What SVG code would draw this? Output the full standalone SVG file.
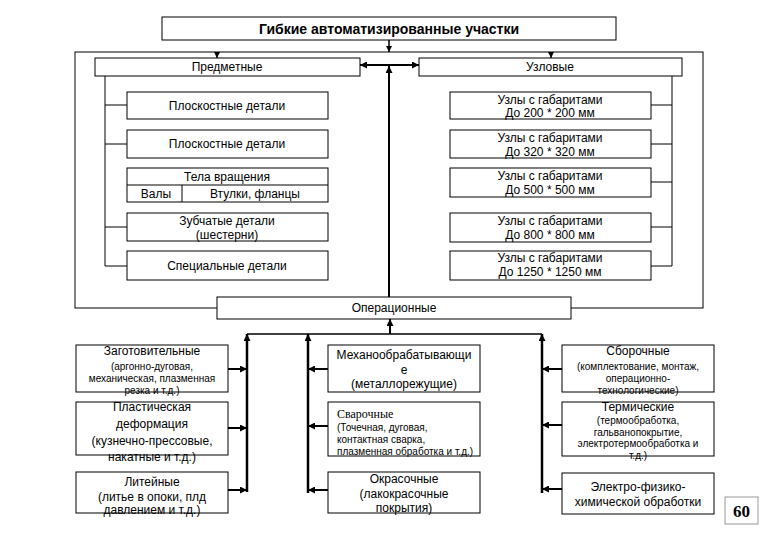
<svg xmlns="http://www.w3.org/2000/svg" width="780" height="540" viewBox="0 0 780 540">
<defs>
<marker id="ah" viewBox="0 0 8 8" refX="8" refY="4" markerWidth="8" markerHeight="7" markerUnits="userSpaceOnUse" orient="auto-start-reverse"><path d="M0,0 L8,4 L0,8 z" fill="#000"/></marker>
<marker id="as" viewBox="0 0 8 8" refX="8" refY="4" markerWidth="6" markerHeight="6" markerUnits="userSpaceOnUse" orient="auto-start-reverse"><path d="M0,0 L8,4 L0,8 z" fill="#000"/></marker>
</defs>
<style>
.b{fill:#fff;stroke:#000;stroke-width:1}
.f{fill:none;stroke:#000;stroke-width:1}
.t{font-family:"Liberation Sans",Arial,sans-serif;font-size:12px;fill:#000;text-anchor:middle;dominant-baseline:central}
.s{font-size:10px}
.l{text-anchor:start}
.c{fill:none;stroke:#000}
</style>
<rect x="0" y="0" width="780" height="540" fill="#fff"/>

<g id="frame"><rect class="f" x="75" y="52" width="628" height="256"/></g>

<g id="connectors">
<line class="c" x1="389" y1="40" x2="389" y2="52" stroke-width="1.5" marker-end="url(#as)"/>
<line class="c" x1="217" y1="52" x2="217" y2="58" stroke-width="1.2" marker-end="url(#as)"/>
<line class="c" x1="551" y1="52" x2="551" y2="58" stroke-width="1.2" marker-end="url(#as)"/>
<line class="c" x1="360" y1="65" x2="419" y2="65" stroke-width="2" marker-start="url(#ah)" marker-end="url(#ah)"/>
<line class="c" x1="389" y1="297" x2="389" y2="66" stroke-width="2" marker-end="url(#ah)"/>
<path class="c" stroke-width="1" d="M105,76 V266 M105,105 H127 M105,144 H127 M105,227 H127 M105,266 H127"/>
<path class="c" stroke-width="1" d="M672,76 V266 M672,105 H651 M672,144 H651 M672,182 H651 M672,227 H651 M672,266 H651"/>
<line class="c" x1="247" y1="334" x2="542" y2="334" stroke-width="1.3"/>
<line class="c" x1="390" y1="334" x2="390" y2="319" stroke-width="2" marker-end="url(#ah)"/>
<line class="c" x1="247" y1="492" x2="247" y2="334" stroke-width="2.5" marker-end="url(#ah)"/>
<line class="c" x1="308" y1="493" x2="308" y2="334" stroke-width="2.5" marker-end="url(#ah)"/>
<line class="c" x1="542" y1="493" x2="542" y2="334" stroke-width="2.5" marker-end="url(#ah)"/>
<line class="c" x1="228" y1="369" x2="247" y2="369" stroke-width="2" marker-end="url(#ah)"/>
<line class="c" x1="228" y1="428" x2="247" y2="428" stroke-width="2" marker-end="url(#ah)"/>
<line class="c" x1="228" y1="490" x2="247" y2="490" stroke-width="2" marker-end="url(#ah)"/>
<line class="c" x1="328" y1="369" x2="308" y2="369" stroke-width="2" marker-end="url(#ah)"/>
<line class="c" x1="328" y1="426" x2="308" y2="426" stroke-width="2" marker-end="url(#ah)"/>
<line class="c" x1="328" y1="490" x2="308" y2="490" stroke-width="2" marker-end="url(#ah)"/>
<line class="c" x1="562" y1="369" x2="542" y2="369" stroke-width="2" marker-end="url(#ah)"/>
<line class="c" x1="562" y1="425" x2="542" y2="425" stroke-width="2" marker-end="url(#ah)"/>
<line class="c" x1="562" y1="489" x2="542" y2="489" stroke-width="2" marker-end="url(#ah)"/>
</g>

<g id="title"><rect class="b" x="162" y="17" width="454" height="23"/><text class="t" x="389" y="29" style="font-weight:bold;font-size:14px">Гибкие автоматизированные участки</text></g>
<g id="predmetnye"><rect class="b" x="95" y="58" width="265" height="18"/><text class="t" x="227" y="67">Предметные</text></g>
<g id="uzlovye"><rect class="b" x="419" y="58" width="263" height="18"/><text class="t" x="550" y="67">Узловые</text></g>

<g id="plosk1"><rect class="b" x="127" y="92" width="201" height="27"/><text class="t" x="227" y="105.5">Плоскостные детали</text></g>
<g id="plosk2"><rect class="b" x="127" y="130" width="201" height="28"/><text class="t" x="227" y="144">Плоскостные детали</text></g>
<g id="tela"><rect class="b" x="127" y="168" width="201" height="34"/><path class="c" d="M127,185 H328 M182,185 V202"/><text class="t" x="227" y="177">Тела вращения</text><text class="t" x="156" y="194">Валы</text><text class="t" x="255" y="194">Втулки, фланцы</text></g>
<g id="zub"><rect class="b" x="127" y="213" width="201" height="28"/><text class="t" x="227" y="221">Зубчатые детали</text><text class="t" x="227" y="235">(шестерни)</text></g>
<g id="spec"><rect class="b" x="127" y="251" width="201" height="29"/><text class="t" x="227" y="266">Специальные детали</text></g>

<g id="u200"><rect class="b" x="450" y="92" width="201" height="27"/><text class="t" x="550" y="99.5">Узлы с габаритами</text><text class="t" x="550" y="112.5">До 200 * 200 мм</text></g>
<g id="u320"><rect class="b" x="450" y="130" width="201" height="28"/><text class="t" x="550" y="138">Узлы с габаритами</text><text class="t" x="550" y="152">До 320 * 320 мм</text></g>
<g id="u500"><rect class="b" x="450" y="168" width="201" height="29"/><text class="t" x="550" y="176">Узлы с габаритами</text><text class="t" x="550" y="190">До 500 * 500 мм</text></g>
<g id="u800"><rect class="b" x="450" y="213" width="201" height="29"/><text class="t" x="550" y="221">Узлы с габаритами</text><text class="t" x="550" y="235">До 800 * 800 мм</text></g>
<g id="u1250"><rect class="b" x="450" y="251" width="201" height="29"/><text class="t" x="550" y="258">Узлы с габаритами</text><text class="t" x="550" y="272">До 1250 * 1250 мм</text></g>

<g id="oper"><rect class="b" x="217" y="297" width="354" height="22"/><text class="t" x="394" y="308">Операционные</text></g>

<g id="zag"><rect class="b" x="76" y="345" width="152" height="47"/><text class="t" x="152" y="351">Заготовительные</text><text class="t s" x="152" y="366">(аргонно-дуговая,</text><text class="t s" x="152" y="378">механическая, плазменная</text><text class="t s" x="152" y="390">резка и т.д.)</text></g>
<g id="plast"><rect class="b" x="76" y="402" width="152" height="53"/><text class="t" x="152" y="407">Пластическая</text><text class="t" x="152" y="424">деформация</text><text class="t" x="152" y="441">(кузнечно-прессовые,</text><text class="t" x="152" y="457">накатные и т.д.)</text></g>
<g id="lit"><rect class="b" x="76" y="472" width="152" height="41"/><text class="t" x="152" y="482">Литейные</text><text class="t" x="152" y="497">(литье в опоки, плд</text><text class="t" x="152" y="510">давлением и т.д.)</text></g>

<g id="mech"><rect class="b" x="328" y="345" width="152" height="47"/><text class="t" x="404" y="355">Механообрабатывающи</text><text class="t" x="404" y="370">е</text><text class="t" x="404" y="384">(металлорежущие)</text></g>
<g id="svar"><rect class="b" x="328" y="402" width="152" height="54"/><text class="t l" x="337" y="414" style="font-family:'Liberation Serif',serif">Сварочные</text><text class="t s l" x="337" y="427">(Точечная, дуговая,</text><text class="t s l" x="337" y="439">контактная сварка,</text><text class="t s l" x="337" y="451">плазменная обработка и т.д.)</text></g>
<g id="okr"><rect class="b" x="328" y="472" width="152" height="41"/><text class="t" x="404" y="479">Окрасочные</text><text class="t" x="404" y="494">(лакокрасочные</text><text class="t" x="404" y="508">покрытия)</text></g>

<g id="sbor"><rect class="b" x="562" y="345" width="152" height="47"/><text class="t" x="638" y="351">Сборочные</text><text class="t s" x="638" y="366">(комплектование, монтаж,</text><text class="t s" x="638" y="378">операционно-</text><text class="t s" x="638" y="390">технологические)</text></g>
<g id="term"><rect class="b" x="562" y="402" width="152" height="54"/><text class="t" x="638" y="407">Термические</text><text class="t s" x="638" y="420">(термообработка,</text><text class="t s" x="638" y="432">гальванопокрытие,</text><text class="t s" x="638" y="443">электротермообработка и</text><text class="t s" x="638" y="455">т.д.)</text></g>
<g id="elec"><rect class="b" x="562" y="473" width="152" height="41"/><text class="t" x="638" y="487">Электро-физико-</text><text class="t" x="638" y="502">химической обработки</text></g>

<g id="page"><rect x="725" y="497" width="33" height="27" fill="#fff" stroke="#999" stroke-width="1"/><text x="741.5" y="511" style="font-family:'Liberation Serif',serif;font-weight:bold;font-size:17px;text-anchor:middle;dominant-baseline:central">60</text></g>
</svg>
